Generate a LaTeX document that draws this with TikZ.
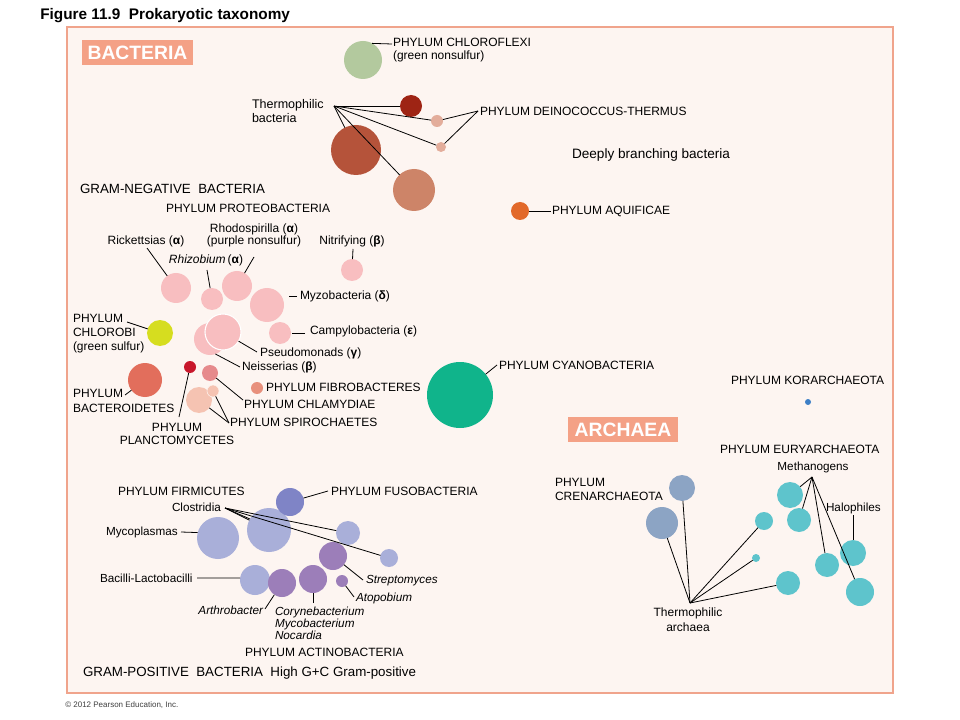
\documentclass[tikz,border=0pt]{standalone}
\usepackage{fontspec}
\setmainfont{Liberation Sans}
\definecolor{bgpink}{HTML}{FDF5F1}
\definecolor{frameC}{HTML}{F0A48C}
\definecolor{salmon}{HTML}{F4A186}
\definecolor{chlgreen}{HTML}{B3C99E}
\definecolor{darkred}{HTML}{9E2414}
\definecolor{dpink}{HTML}{E3AD9B}
\definecolor{brownC}{HTML}{B5533A}
\definecolor{tanC}{HTML}{CD8468}
\definecolor{aqui}{HTML}{E2692A}
\definecolor{prot}{HTML}{F8BEC0}
\definecolor{chlorobiC}{HTML}{D6DD1F}
\definecolor{bacterC}{HTML}{E26E5C}
\definecolor{planC}{HTML}{C8172B}
\definecolor{chlamC}{HTML}{E68A8C}
\definecolor{fibroC}{HTML}{E8907C}
\definecolor{spiroC}{HTML}{F5C3B2}
\definecolor{cyanoC}{HTML}{10B48B}
\definecolor{korC}{HTML}{3D7FC6}
\definecolor{euryC}{HTML}{5EC4CC}
\definecolor{crenC}{HTML}{8CA4C4}
\definecolor{firmC}{HTML}{A9AFD9}
\definecolor{fusoC}{HTML}{7F84C6}
\definecolor{actC}{HTML}{9C7EB9}
\newcommand{\myfcap}{\fontsize{9}{10.5}\selectfont}
\newcommand{\myfsm}{\fontsize{9}{10.5}\selectfont}
\newcommand{\myfti}{\fontsize{8.8}{9}\selectfont}
\newcommand{\myfgrp}{\fontsize{10}{12}\selectfont}
\begin{document}
\begin{tikzpicture}[x=0.75pt,y=-0.75pt,
  blob/.style={circle, inner sep=0pt, outer sep=0pt, draw=none, minimum size=#1*1.5pt},
  lab/.style={inner sep=0pt, outer sep=0pt, font=\myfcap, align=left},
  sml/.style={inner sep=0pt, outer sep=0pt, font=\myfsm, align=left},
  tiny/.style={inner sep=0pt, outer sep=0pt, font=\myfti, align=left},
  grp/.style={inner sep=0pt, outer sep=0pt, font=\myfgrp, align=left},
  tagbox/.style={fill=salmon, text=white, font=\fontsize{14.5}{16}\selectfont\bfseries, inner sep=0pt, minimum width=83pt, minimum height=18.75pt},
  ln/.style={line width=0.6pt, draw=black}]
\path[use as bounding box, fill=white] (0,0) rectangle (960,720);
\draw[frameC, line width=1.2pt, fill=bgpink] (67,27) rectangle (893,693);

% title and tags
\node[inner sep=0pt, anchor=west, font=\fontsize{11.5}{13}\selectfont\bfseries] (title) at (40,16) {Figure 11.9\ \ Prokaryotic taxonomy};
\node[tagbox] (bact) at (137.5,52.5) {BACTERIA};
\node[tagbox] (arch) at (623,429.5) {ARCHAEA};

% deeply branching circles
\node[blob=19, fill=chlgreen] (cchl) at (363,60) {};
\node[blob=11, fill=darkred] (cdr) at (411,106) {};
\node[blob=6, fill=dpink] (cp1) at (437,121) {};
\node[blob=5, fill=dpink] (cp2) at (441,147) {};
\node[blob=25, fill=brownC] (cbr) at (356,150) {};
\node[blob=21, fill=tanC] (ctan) at (414,190) {};
\node[blob=9, fill=aqui] (caq) at (520,211) {};

% proteobacteria etc
\node[blob=15, fill=prot] (crick) at (176,288) {};
\node[blob=11, fill=prot] (crhiz) at (212,299) {};
\node[blob=15, fill=prot] (crhod) at (237,286) {};
\node[blob=17, fill=prot] (cmyzo) at (267,305) {};
\node[blob=11, fill=prot] (cnit) at (352,270) {};
\node[blob=11, fill=prot] (ccamp) at (280,333) {};
\node[blob=16, fill=prot] (cneis) at (210,339) {};
\node[blob=18, fill=prot, draw=white, line width=0.8pt] (cpseu) at (223,332) {};
\node[blob=13, fill=chlorobiC] (cchlo) at (160,333) {};
\node[blob=17, fill=bacterC] (cbact) at (145,380) {};
\node[blob=6, fill=planC] (cplan) at (190,367) {};
\node[blob=8, fill=chlamC] (cchlam) at (210,373) {};
\node[blob=6, fill=fibroC] (cfib) at (257,388) {};
\node[blob=13, fill=spiroC] (cspi1) at (199,400) {};
\node[blob=6, fill=spiroC, draw=bgpink, line width=0.4pt] (cspi2) at (213,391) {};
\node[blob=33, fill=cyanoC] (ccyan) at (460,395) {};

% archaea
\node[blob=3, fill=korC] (ckor) at (808,402) {};
\node[blob=13, fill=euryC] (e1) at (790,495) {};
\node[blob=12, fill=euryC] (e2) at (799,520) {};
\node[blob=9, fill=euryC] (e3) at (764,521) {};
\node[blob=4, fill=euryC] (e4) at (756,558) {};
\node[blob=12, fill=euryC] (e5) at (788,583) {};
\node[blob=12, fill=euryC] (e6) at (827,565) {};
\node[blob=13, fill=euryC] (e7) at (853,553) {};
\node[blob=14, fill=euryC] (e8) at (860,592) {};
\node[blob=13, fill=crenC] (cr1) at (682,488) {};
\node[blob=16, fill=crenC] (cr2) at (662,523) {};

% gram-positive
\node[blob=21, fill=firmC] (cmyc) at (218,538) {};
\node[blob=22, fill=firmC] (cclo) at (269,530) {};
\node[blob=12, fill=firmC] (cf3) at (348,533) {};
\node[blob=9, fill=firmC] (cf4) at (389,558) {};
\node[blob=15, fill=firmC] (cbac) at (255,580) {};
\node[blob=14, fill=fusoC] (cfus) at (290,502) {};
\node[blob=14, fill=actC] (ca1) at (282,583) {};
\node[blob=14, fill=actC] (ca2) at (313,579) {};
\node[blob=14, fill=actC] (ca3) at (333,556) {};
\node[blob=6, fill=actC] (ca4) at (342,581) {};

% labels
\node[lab, anchor=west, font=\fontsize{9}{9.75}\selectfont] (chlfL) at (393,50.5) {PHYLUM CHLOROFLEXI\\(green nonsulfur)};
\node[sml, anchor=west, font=\fontsize{9.4}{10.5}\selectfont] (thbL) at (252,111) {Thermophilic\\bacteria};
\node[lab, anchor=west] (deinL) at (480,111) {PHYLUM DEINOCOCCUS-THERMUS};
\node[grp, anchor=west, font=\fontsize{10.2}{12}\selectfont] (deepL) at (572,155) {Deeply branching bacteria};
\node[lab, anchor=west] (aquL) at (552,211) {PHYLUM AQUIFICAE};
\node[grp, anchor=west] (gnegL) at (80,189) {GRAM-NEGATIVE\ \ BACTERIA};
\node[lab, anchor=west] (proL) at (166,208) {PHYLUM PROTEOBACTERIA};
\node[sml] (rickL) at (146,241) {Rickettsias (\textbf{α})};
\node[sml, align=center, font=\fontsize{9}{9}\selectfont] (rhodL) at (254,235) {Rhodospirilla (\textbf{α})\\(purple nonsulfur)};
\node[sml] (nitL) at (352,241) {Nitrifying (\textbf{β})};
\node[sml] (rhizL) at (206,260) {\textit{Rhizobium}\,(\textbf{α})};
\node[sml, anchor=west] (myzoL) at (300,296) {Myzobacteria (\textbf{δ})};
\node[sml, anchor=west] (campL) at (310,331) {Campylobacteria (\textbf{ε})};
\node[lab, anchor=west] (chloL) at (73,334) {PHYLUM\\CHLOROBI\\(green sulfur)};
\node[sml, anchor=west] (pseuL) at (260,353) {Pseudomonads (\textbf{γ})};
\node[sml, anchor=west] (neisL) at (242,367) {Neisserias (\textbf{β})};
\node[lab, anchor=west, font=\fontsize{9}{11.25}\selectfont] (bactL) at (73,401) {PHYLUM\\BACTEROIDETES};
\node[lab, align=center, font=\fontsize{9}{9.75}\selectfont] (planL) at (177,434) {PHYLUM\\PLANCTOMYCETES};
\node[lab, anchor=west] (fibL) at (266,387) {PHYLUM FIBROBACTERES};
\node[lab, anchor=west] (chlamL) at (244,404) {PHYLUM CHLAMYDIAE};
\node[lab, anchor=west] (spiL) at (230,422) {PHYLUM SPIROCHAETES};
\node[lab, anchor=west] (cyanL) at (499,365) {PHYLUM CYANOBACTERIA};
\node[lab, anchor=west] (korL) at (731,380) {PHYLUM KORARCHAEOTA};
\node[lab, anchor=west] (euryL) at (720,449) {PHYLUM EURYARCHAEOTA};
\node[tiny] (methL) at (813,467) {Methanogens};
\node[tiny, anchor=west] (haloL) at (826,508) {Halophiles};
\node[lab, anchor=west] (crenL) at (555,489) {PHYLUM\\CRENARCHAEOTA};
\node[sml, align=center, font=\fontsize{9}{11.25}\selectfont] (thaL) at (688,620) {Thermophilic\\archaea};
\node[lab, anchor=west] (firmL) at (118,491) {PHYLUM FIRMICUTES};
\node[lab, anchor=west] (fusoL) at (331,491) {PHYLUM FUSOBACTERIA};
\node[tiny, anchor=west] (closL) at (172,507) {Clostridia};
\node[tiny, anchor=west] (mycoL) at (106,532) {Mycoplasmas};
\node[tiny, anchor=west] (bacL) at (100,578) {Bacilli-Lactobacilli};
\node[tiny, font=\myfti\itshape, anchor=west] (strepL) at (366,581) {Streptomyces};
\node[tiny, font=\myfti\itshape, anchor=west] (atopL) at (356,598) {Atopobium};
\node[tiny, font=\myfti\itshape, anchor=east] (arthL) at (263,610) {Arthrobacter};
\node[tiny, font=\myfti\itshape, anchor=west] (coryL) at (275,623) {Corynebacterium\\Mycobacterium\\Nocardia};
\node[lab, anchor=west] (actL) at (245,652) {PHYLUM ACTINOBACTERIA};
\node[grp, anchor=west] (gposL) at (83,673) {GRAM-POSITIVE\ \ BACTERIA\ \ High G+C Gram-positive};
\node[inner sep=0pt, anchor=west, font=\fontsize{6}{7}\selectfont, text=black!75] (copyL) at (65,705) {© 2012 Pearson Education, Inc.};

% connector coordinates
\coordinate (chlfA) at (392,44);
\coordinate (thbA) at (334,106);
\coordinate (deinA) at (478,111);
\coordinate (aquA) at (551,211);
\coordinate (rickA) at (147,248);
\coordinate (rhizA) at (207,270);
\coordinate (rhodA) at (254,257);
\coordinate (nitA) at (353,249);
\coordinate (myzoA) at (297,296);
\coordinate (myzoB) at (289,296);
\coordinate (campA) at (305,333);
\coordinate (campB) at (292,333);
\coordinate (chloA) at (127,322);
\coordinate (pseuA) at (257,352);
\coordinate (neisA) at (240,367);
\coordinate (bactA) at (125,395);
\coordinate (planA) at (179,417);
\coordinate (chlamA) at (243,400);
\coordinate (spiA) at (229,423);
\coordinate (cyanA) at (497,365);
\coordinate (methA) at (812,477);
\coordinate (haloA) at (853,515);
\coordinate (thaA) at (690,603);
\coordinate (fusoA) at (328,491);
\coordinate (closA) at (225,508);
\coordinate (mycoA) at (181,532);
\coordinate (bacA) at (197,578);
\coordinate (strepA) at (363,580);
\coordinate (atopA) at (354,597);
\coordinate (arthA) at (265,609);
\coordinate (coryA) at (313,603);

% connectors
\draw[ln] (chlfA) -- (cchl.61);
\draw[ln] (thbA) -- (cdr);
\draw[ln] (thbA) -- (cp1);
\draw[ln] (thbA) -- (cp2);
\draw[ln] (thbA) -- (cbr);
\draw[ln] (thbA) -- (ctan);
\draw[ln] (deinA) -- (cp1);
\draw[ln] (deinA) -- (cp2);
\draw[ln] (aquA) -- (caq);
\draw[ln] (rickA) -- (crick);
\draw[ln] (rhizA) -- (crhiz);
\draw[ln] (rhodA) -- (crhod);
\draw[ln] (nitA) -- (cnit);
\draw[ln] (myzoA) -- (myzoB);
\draw[ln] (campA) -- (campB);
\draw[ln] (chloA) -- (cchlo);
\draw[ln] (pseuA) -- (cpseu);
\draw[ln] (neisA) -- (cneis.-70);
\draw[ln] (bactA) -- (cbact);
\draw[ln] (planA) -- (cplan);
\draw[ln] (chlamA) -- (cchlam);
\draw[ln] (spiA) -- (cspi1);
\draw[ln] (spiA) -- (cspi2);
\draw[ln] (cyanA) -- (ccyan);
\draw[ln] (methA) -- (e1);
\draw[ln] (methA) -- (e2);
\draw[ln] (methA) -- (e6);
\draw[ln] (methA) -- (e8);
\draw[ln] (haloA) -- (e7);
\draw[ln] (thaA) -- (cr1);
\draw[ln] (thaA) -- (cr2);
\draw[ln] (thaA) -- (e3);
\draw[ln] (thaA) -- (e4);
\draw[ln] (thaA) -- (e5);
\draw[ln] (fusoA) -- (cfus);
\draw[ln] (closA) -- (cclo);
\draw[ln] (closA) -- (cclo.150);
\draw[ln] (closA) -- (cf3);
\draw[ln] (closA) -- (cf4);
\draw[ln] (mycoA) -- (cmyc.165);
\draw[ln] (bacA) -- (cbac.172);
\draw[ln] (strepA) -- (ca3);
\draw[ln] (atopA) -- (ca4);
\draw[ln] (arthA) -- (ca1);
\draw[ln] (coryA) -- (ca2);
\end{tikzpicture}
\end{document}
